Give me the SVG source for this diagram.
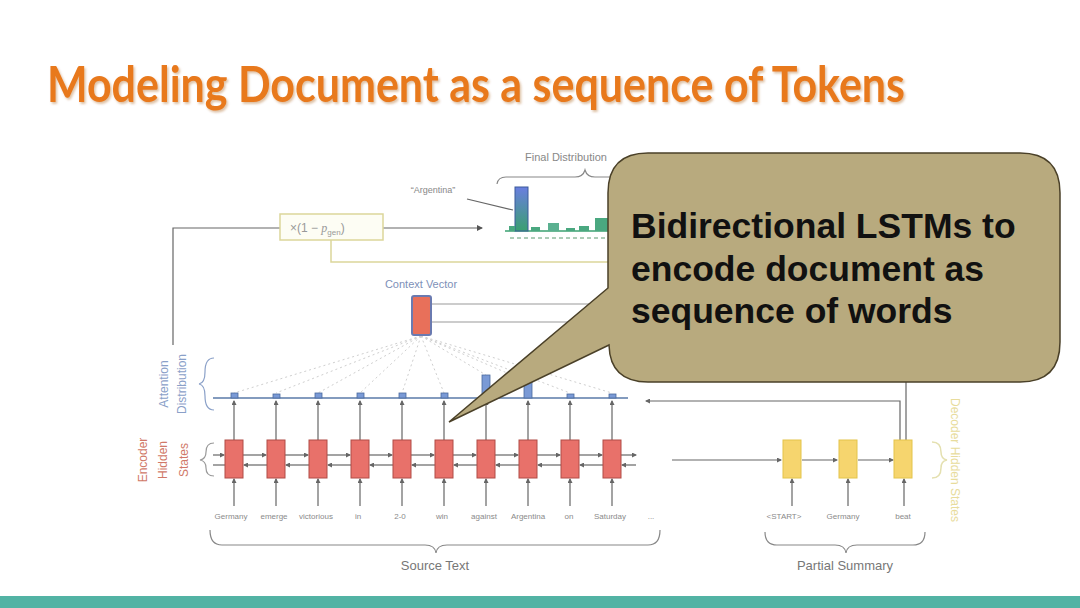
<svg xmlns="http://www.w3.org/2000/svg" width="1080" height="608" viewBox="0 0 1080 608">
<defs>
<marker id="ah" markerWidth="6" markerHeight="6" refX="5" refY="3" orient="auto" markerUnits="userSpaceOnUse"><path d="M0,0 L6,3 L0,6 Z" fill="#555"/></marker>
<marker id="ahs" markerWidth="5" markerHeight="5" refX="4" refY="2.5" orient="auto" markerUnits="userSpaceOnUse"><path d="M0,0 L5,2.5 L0,5 Z" fill="#666"/></marker>
<linearGradient id="bar" x1="0" y1="0" x2="0" y2="1"><stop offset="0" stop-color="#6a7ee0"/><stop offset="1" stop-color="#3aa070"/></linearGradient>
<filter id="sh" x="-5%" y="-20%" width="110%" height="150%"><feDropShadow dx="1.5" dy="2" stdDeviation="1" flood-color="#a05010" flood-opacity="0.35"/></filter>
<style>
.t{font-family:"Liberation Sans",Arial,sans-serif}
.w{font-family:"Liberation Sans",Arial,sans-serif;font-size:8px;fill:#8a8a8a;text-anchor:middle}
.ln{stroke:#666;stroke-width:1.2;fill:none}
.lnl{stroke:#999;stroke-width:1;fill:none}
.enc{fill:#e8716a;stroke:#b04c46;stroke-width:1}
.dec{fill:#f6d56e;stroke:#e3c44a;stroke-width:1}
.att{fill:#7a9ad6;stroke:#4a6a9e;stroke-width:0.8}
.dot{stroke:#cfcfcf;stroke-width:1;stroke-dasharray:2 3;fill:none}
.brace{stroke:#888;stroke-width:1.2;fill:none}
</style>
</defs>
<rect width="1080" height="608" fill="#ffffff"/>
<rect x="0" y="596" width="1080" height="12" fill="#52b3a4"/>
<text id="title" x="47" y="102" font-family="Lato,sans-serif" font-weight="bold" font-size="50" fill="#e8791e" filter="url(#sh)" textLength="858" lengthAdjust="spacingAndGlyphs">Modeling Document as a sequence of Tokens</text>

<g id="connectors">
<path class="ln" d="M173,345 V228 H280"/>
<path class="ln" d="M383,228 H482" marker-end="url(#ah)"/>
<path d="M331,240 V262 H610" stroke="#dcd69a" stroke-width="1.5" fill="none"/>
<path class="ln" d="M467,199 L513,210" stroke-width="1"/>
<path class="lnl" d="M432,304 H610 M432,322 H610"/>
<path class="dot" d="M421,336 L234,393 M421,336 L276,393 M421,336 L318,393 M421,336 L360,393 M421,336 L402,393 M421,336 L444,393 M421,336 L486,375 M421,336 L528,382 M421,336 L570,393 M421,336 L612,393"/>
<path d="M213,398 H628" stroke="#5a7aa8" stroke-width="1.5"/>
<g class="ln" stroke-width="1">
<path d="M234,440 V401" marker-end="url(#ahs)"/><path d="M276,440 V401" marker-end="url(#ahs)"/><path d="M318,440 V401" marker-end="url(#ahs)"/><path d="M360,440 V401" marker-end="url(#ahs)"/><path d="M402,440 V401" marker-end="url(#ahs)"/><path d="M444,440 V401" marker-end="url(#ahs)"/><path d="M486,440 V401" marker-end="url(#ahs)"/><path d="M528,440 V401" marker-end="url(#ahs)"/><path d="M570,440 V401" marker-end="url(#ahs)"/><path d="M612,440 V401" marker-end="url(#ahs)"/>
</g>
<g class="ln" stroke-width="1">
<path d="M234,506 V479" marker-end="url(#ahs)"/><path d="M276,506 V479" marker-end="url(#ahs)"/><path d="M318,506 V479" marker-end="url(#ahs)"/><path d="M360,506 V479" marker-end="url(#ahs)"/><path d="M402,506 V479" marker-end="url(#ahs)"/><path d="M444,506 V479" marker-end="url(#ahs)"/><path d="M486,506 V479" marker-end="url(#ahs)"/><path d="M528,506 V479" marker-end="url(#ahs)"/><path d="M570,506 V479" marker-end="url(#ahs)"/><path d="M612,506 V479" marker-end="url(#ahs)"/>
<path d="M792,506 V479" marker-end="url(#ahs)"/><path d="M848,506 V479" marker-end="url(#ahs)"/><path d="M904,506 V479" marker-end="url(#ahs)"/>
</g>
<g class="ln" stroke-width="1.2">
<path d="M213,455 H224" marker-end="url(#ahs)"/><path d="M243,455 H266" marker-end="url(#ahs)"/><path d="M285,455 H308" marker-end="url(#ahs)"/><path d="M327,455 H350" marker-end="url(#ahs)"/><path d="M369,455 H392" marker-end="url(#ahs)"/><path d="M411,455 H434" marker-end="url(#ahs)"/><path d="M453,455 H476" marker-end="url(#ahs)"/><path d="M495,455 H518" marker-end="url(#ahs)"/><path d="M537,455 H560" marker-end="url(#ahs)"/><path d="M579,455 H602" marker-end="url(#ahs)"/><path d="M621,455 H636" marker-end="url(#ahs)"/>
<path d="M636,465 H622" marker-end="url(#ahs)"/><path d="M603,465 H580" marker-end="url(#ahs)"/><path d="M561,465 H538" marker-end="url(#ahs)"/><path d="M519,465 H496" marker-end="url(#ahs)"/><path d="M477,465 H454" marker-end="url(#ahs)"/><path d="M435,465 H412" marker-end="url(#ahs)"/><path d="M393,465 H370" marker-end="url(#ahs)"/><path d="M351,465 H328" marker-end="url(#ahs)"/><path d="M309,465 H286" marker-end="url(#ahs)"/><path d="M267,465 H244" marker-end="url(#ahs)"/><path d="M225,465 H213"/>
</g>
<path class="ln" d="M672,460 H781" marker-end="url(#ahs)"/>
<path class="ln" d="M802,460 H837" marker-end="url(#ahs)"/>
<path class="ln" d="M858,460 H893" marker-end="url(#ahs)"/>
<path class="ln" d="M900,440 V401 H646" marker-end="url(#ahs)"/>
<path class="ln" d="M906,440 V380"/>
<path class="brace" d="M210,530 Q210,545 222,545 H425 Q435,545 436,553 Q437,545 447,545 H648 Q660,545 660,530"/>
<path class="brace" d="M765,532 Q765,545 777,545 H835 Q845,545 846,553 Q847,545 857,545 H913 Q925,545 925,532"/>
<path class="brace" d="M497,184 Q498,177 506,177 H575 Q583,177 585,170 Q587,177 595,177 H620"/>
<path d="M214,358 Q205,358 205,372 Q205,383 199,384 Q205,385 205,396 Q205,410 214,410" stroke="#8aa0c8" stroke-width="1.2" fill="none"/>
<path d="M214,443 Q206,443 206,452 Q206,459 200,460 Q206,461 206,468 Q206,476 214,476" stroke="#999" stroke-width="1.2" fill="none"/>
<path d="M932,442 Q941,442 941,452 Q941,459 947,460 Q941,461 941,468 Q941,478 932,478" stroke="#e4e0b0" stroke-width="1.5" fill="none"/>
</g>

<g id="final-distribution">
<path d="M505,231 H612" stroke="#3aa070" stroke-width="1.5"/>
<path d="M510,238 H612" stroke="#5a9a70" stroke-width="1" stroke-dasharray="4 3"/>
<rect x="515" y="187" width="13" height="44" fill="url(#bar)" stroke="#3a5a9a" stroke-width="1"/>
<rect x="509" y="226" width="6" height="5" fill="#4aa880"/>
<rect x="531" y="227" width="9" height="4" fill="#4aa880"/>
<rect x="548" y="223" width="11" height="8" fill="#5ab090"/>
<rect x="566" y="228" width="9" height="3" fill="#4aa880"/>
<rect x="579" y="226" width="10" height="5" fill="#4aa880"/>
<rect x="595" y="218" width="14" height="13" fill="#4aa880"/>
<text x="433" y="193" class="t" font-size="9" fill="#888" text-anchor="middle">“Argentina”</text>
<text x="525" y="161" class="t" font-size="11" fill="#888">Final Distribution</text>
</g>

<g id="pgen">
<rect x="280" y="214" width="103" height="26" fill="#fdfdf4" stroke="#dcd69a" stroke-width="1.5"/>
<text x="290" y="232" class="t" font-size="12" fill="#999">×(1 − <tspan font-style="italic" font-family="Liberation Serif,serif">p</tspan><tspan font-size="8" dy="3">gen</tspan><tspan dy="-3">)</tspan></text>
</g>

<g id="context-vector">
<text x="421" y="288" class="t" font-size="11" fill="#7d90b8" text-anchor="middle">Context Vector</text>
<rect x="412" y="296" width="19" height="39" rx="2" fill="#e8705a" stroke="#6a7ab0" stroke-width="2"/>
</g>

<g id="attention">
<rect class="att" x="231" y="393" width="7" height="5"/><rect class="att" x="273" y="394" width="7" height="4"/><rect class="att" x="315" y="393" width="7" height="5"/><rect class="att" x="357" y="393" width="7" height="5"/><rect class="att" x="399" y="393" width="7" height="5"/><rect class="att" x="441" y="393" width="7" height="5"/><rect class="att" x="482" y="375" width="8" height="23"/><rect class="att" x="524" y="382" width="8" height="16"/><rect class="att" x="567" y="394" width="7" height="4"/><rect class="att" x="609" y="394" width="7" height="4"/>
</g>

<g id="encoder">
<rect class="enc" x="225" y="440" width="18" height="38"/><rect class="enc" x="267" y="440" width="18" height="38"/><rect class="enc" x="309" y="440" width="18" height="38"/><rect class="enc" x="351" y="440" width="18" height="38"/><rect class="enc" x="393" y="440" width="18" height="38"/><rect class="enc" x="435" y="440" width="18" height="38"/><rect class="enc" x="477" y="440" width="18" height="38"/><rect class="enc" x="519" y="440" width="18" height="38"/><rect class="enc" x="561" y="440" width="18" height="38"/><rect class="enc" x="603" y="440" width="18" height="38"/>
<text class="w" x="231" y="519">Germany</text><text class="w" x="274" y="519">emerge</text><text class="w" x="316" y="519">victorious</text><text class="w" x="358" y="519">in</text><text class="w" x="400" y="519">2-0</text><text class="w" x="442" y="519">win</text><text class="w" x="484" y="519">against</text><text class="w" x="528" y="519">Argentina</text><text class="w" x="569" y="519">on</text><text class="w" x="610" y="519">Saturday</text><text class="w" x="651" y="519">...</text>
</g>

<g id="decoder">
<rect class="dec" x="783" y="440" width="18" height="38"/><rect class="dec" x="839" y="440" width="18" height="38"/><rect class="dec" x="894" y="440" width="18" height="38"/>
<text class="w" x="784" y="519">&lt;START&gt;</text><text class="w" x="843" y="519">Germany</text><text class="w" x="903" y="519">beat</text>
</g>

<g id="labels">
<text x="435" y="570" class="t" font-size="13" fill="#777" text-anchor="middle">Source Text</text>
<text x="845" y="570" class="t" font-size="13" fill="#777" text-anchor="middle">Partial Summary</text>
<g class="t" font-size="12" fill="#8aa0c8" text-anchor="middle">
<text transform="translate(168,384) rotate(-90)">Attention</text>
<text transform="translate(186,384) rotate(-90)">Distribution</text>
</g>
<g class="t" font-size="12" fill="#d07868" text-anchor="middle">
<text transform="translate(147,460) rotate(-90)">Encoder</text>
<text transform="translate(167,460) rotate(-90)">Hidden</text>
<text transform="translate(188,460) rotate(-90)">States</text>
</g>
<text transform="translate(951,460) rotate(90)" class="t" font-size="12" fill="#e8dc9c" text-anchor="middle">Decoder Hidden States</text>
</g>

<g id="callout">
<path d="M648,153 H1020 Q1060,153 1060,193 V342 Q1060,382 1020,382 H648 Q610,382 609,345 L449,422 L608,288 V193 Q608,153 648,153 Z" fill="#b8aa7e" stroke="#4a4028" stroke-width="1.5"/>
<g class="t" font-weight="bold" font-size="35.5" fill="#111">
<text x="631" y="238">Bidirectional LSTMs to</text>
<text x="631" y="281">encode document as</text>
<text x="631" y="323">sequence of words</text>
</g>
</g>
</svg>
